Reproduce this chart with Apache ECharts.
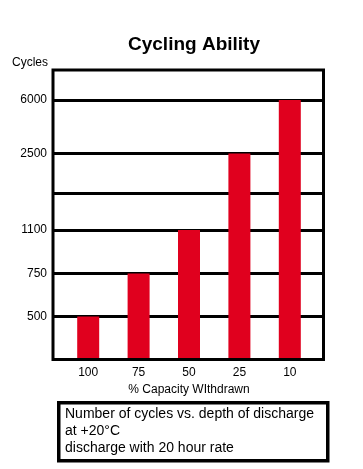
<!DOCTYPE html>
<html>
<head>
<meta charset="utf-8">
<script src="https://cdn.jsdelivr.net/npm/echarts@6/dist/echarts.min.js"></script>
<style>
html,body{margin:0;padding:0;background:#fff;}
#c{width:363px;height:469px;}
</style>
</head>
<body>
<div id="c"></div>
<script>
// ---- data ----
const categories = ['100', '75', '50', '25', '10'];
const cycles = [500, 750, 1100, 2500, 6000];
const yTickLabels = ['500', '750', '1100', '', '2500', '6000'];
const yTickValues = [500, 750, 1100, 1700, 2500, 6000];
const titleText = 'Cycling Ability';
const yName = 'Cycles';
const xName = '% Capacity WIthdrawn';
const noteLines = ['Number of cycles vs. depth of discharge', 'at +20°C', 'discharge with 20 hour rate'];

// ---- non-linear axis scale (as printed): axis level of each tick ----
const tickLevels = [1, 2, 3.01, 3.86, 4.79, 6.03];
const levelMax = 6.73;
function levelOf(v) {
  if (v <= yTickValues[0]) return tickLevels[0] * v / yTickValues[0];
  for (let i = 1; i < yTickValues.length; i++) {
    if (v <= yTickValues[i]) {
      const t = (v - yTickValues[i - 1]) / (yTickValues[i] - yTickValues[i - 1]);
      return tickLevels[i - 1] + t * (tickLevels[i] - tickLevels[i - 1]);
    }
  }
  return tickLevels[tickLevels.length - 1];
}
function labelOfLevel(l) {
  for (let i = 0; i < tickLevels.length; i++) {
    if (Math.abs(tickLevels[i] - l) < 1e-6) return yTickLabels[i];
  }
  return '';
}

const chart = echarts.init(document.getElementById('c'), null, {renderer: 'canvas'});
const FONT = '"Liberation Sans", Arial, sans-serif';
const labelLevels = tickLevels.filter((l, i) => yTickLabels[i] !== '');

const option = {
  backgroundColor: '#fff',
  animation: false,
  title: {
    text: titleText,
    left: 189, top: 30,
    textAlign: 'center',
    textStyle: {fontFamily: FONT, fontWeight: 'bold', fontSize: 19, color: '#000'}
  },
  grid: [
    {left: 53, right: 39.5, top: 70, height: 289.5, show: true, borderColor: '#000', borderWidth: 3, backgroundColor: 'transparent', z: 5},
    {left: 63, right: 48, top: 70, height: 289.5}
  ],
  xAxis: [
    {gridIndex: 0, type: 'value', min: 0, max: 1, show: false},
    {
      gridIndex: 1, type: 'category', data: categories,
      axisLine: {show: false}, axisTick: {show: false},
      axisLabel: {fontFamily: FONT, fontSize: 12, color: '#000', margin: 7},
      name: xName, nameLocation: 'middle', nameGap: 21,
      nameTextStyle: {fontFamily: FONT, fontSize: 12, color: '#000'}
    }
  ],
  yAxis: [
    {
      gridIndex: 0, type: 'value', min: 0, max: levelMax,
      name: yName, nameLocation: 'end', nameGap: 1,
      nameTextStyle: {fontFamily: FONT, fontSize: 12, color: '#000', align: 'right', padding: [0, 5, 0, 0]},
      axisLine: {show: false}, axisTick: {show: false, customValues: tickLevels},
      axisLabel: {customValues: labelLevels, formatter: v => labelOfLevel(v), fontFamily: FONT, fontSize: 12, color: '#000', margin: 6},
      splitLine: {show: true, lineStyle: {color: '#000', width: 3}}
    },
    {gridIndex: 1, type: 'value', min: 0, max: levelMax, show: false, splitLine: {show: false}}
  ],
  series: [
    {
      type: 'bar', xAxisIndex: 1, yAxisIndex: 1,
      data: cycles.map(levelOf),
      barWidth: 22,
      itemStyle: {color: '#e0001e'},
      z: 2
    }
  ],
  graphic: [
    {
      type: 'rect', left: 57, top: 401, z: 10,
      shape: {width: 269, height: 58},
      style: {fill: '#fff', stroke: '#000', lineWidth: 3.5}
    },
    {
      type: 'text', left: 65, top: 406, z: 11,
      style: {text: noteLines.join('\n'), font: '14px ' + FONT, fill: '#000', lineHeight: 17}
    }
  ]
};
chart.setOption(option);
</script>
</body>
</html>
